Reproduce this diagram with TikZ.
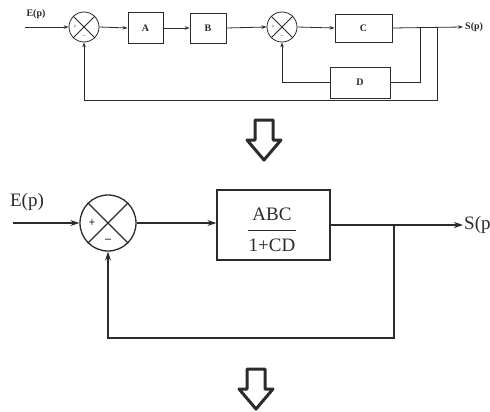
\documentclass[tikz,border=0pt]{standalone}
\usepackage{fontspec}
\setmainfont{Liberation Serif}
\usetikzlibrary{arrows.meta}
\definecolor{ink}{HTML}{2B2B2B}
\begin{document}
\begin{tikzpicture}[x=1pt,y=-1pt,
  ln/.style={draw=ink, line width=0.8pt},
  arr/.style={ln,-{Stealth[length=5pt,width=3.5pt]}},
  lnb/.style={draw=ink, line width=1.3pt},
  arrb/.style={lnb,-{Stealth[length=9pt,width=6pt]}},
  blk/.style={ln, rectangle, inner sep=0pt, font=\fontsize{10}{11}\selectfont\bfseries, text=ink},
  sumt/.style={ln, circle, minimum size=30pt, inner sep=0pt},
  sumb/.style={lnb, circle, minimum size=56pt, inner sep=0pt},
  lblt/.style={font=\fontsize{10}{11}\selectfont\bfseries, text=ink, inner sep=0pt},
  lblb/.style={font=\fontsize{19}{21}\selectfont, text=ink, inner sep=0pt},
  sgn/.style={font=\fontsize{6}{6}\selectfont, text=ink, inner sep=0pt},
  sgnb/.style={font=\fontsize{12}{12}\selectfont\bfseries, text=ink, inner sep=0pt},
  hollow/.style={draw=ink, line width=3pt, line join=round}]
\useasboundingbox[fill=white] (0,0) rectangle (490,412);

% ---------- top diagram ----------
\node[sumt] (s1) at (84,27) {};
\draw[ln] (s1.north west) -- (s1.south east) (s1.north east) -- (s1.south west);
\node[sgn] (s1p) at (75,27) {+};
\node[sgn] (s1m) at (84,37) {--};
\node[blk, minimum width=35pt, minimum height=31pt] (A) at (145.5,28) {A};
\node[blk, minimum width=36pt, minimum height=30pt] (B) at (208,28) {B};
\node[sumt] (s2) at (282,27) {};
\draw[ln] (s2.north west) -- (s2.south east) (s2.north east) -- (s2.south west);
\node[sgn] (s2p) at (273,27) {+};
\node[sgn] (s2m) at (282,37) {--};
\node[blk, minimum width=57pt, minimum height=28pt] (C) at (363.5,28) {C};
\node[blk, minimum width=60pt, minimum height=31pt] (D) at (360,82.5) {D};
\coordinate (ein) at (25,27);
\coordinate (bD) at (420,27);
\coordinate (bO) at (437,27);
\coordinate (sout) at (463,27);
\coordinate (fb1) at (437,100);
\node[lblt] (E1) at (36,14) {E(p)};
\node[lblt, anchor=west] (S1) at (465,27) {S(p)};

\draw[arr] (ein) -- (s1.west);
\draw[arr] (s1.east) -- (A.west);
\draw[arr] (A.east) -- (B.west);
\draw[arr] (B.east) -- (s2.west);
\draw[arr] (s2.east) -- (C.west);
\draw[arr] (C.east) -- (sout);
\draw[ln] (bD) |- (D.east);
\draw[arr] (D.west) -| (s2.south);
\draw[arr] (bO) -- (fb1) -| (s1.south);

% ---------- first hollow arrow ----------
\draw[hollow] (255,120) -- (273,120) -- (273,140) -- (281,140) -- (264,160) -- (247,140) -- (255,140) -- cycle;

% ---------- bottom diagram ----------
\node[sumb] (s3) at (108,223) {};
\draw[lnb] (s3.north west) -- (s3.south east) (s3.north east) -- (s3.south west);
\node[sgnb] (s3p) at (92,223) {+};
\node[sgnb] (s3m) at (108,241) {--};
\node[lnb, rectangle, minimum width=113pt, minimum height=70pt] (G) at (273.5,225) {};
\node[lblb] (num) at (272,214) {ABC};
\node[lblb] (den) at (272,245) {1+CD};
\draw[draw=ink, line width=1pt] (248,230) -- (296,230);
\coordinate (ein2) at (13,223);
\coordinate (b2) at (394,225);
\coordinate (sout2) at (463,225);
\coordinate (fb2) at (394,338);
\node[lblb] (E2) at (27,202) {E(p)};
\node[lblb, anchor=west] (S2) at (464,225) {S(p)};

\draw[arrb] (ein2) -- (s3.west);
\draw[arrb] (s3.east) -- (s3.east -| G.west);
\draw[arrb] (G.east |- b2) -- (sout2);
\draw[arrb] (b2) -- (fb2) -| (s3.south);

% ---------- second hollow arrow ----------
\draw[hollow] (247,369) -- (265,369) -- (265,389) -- (273,389) -- (256,409) -- (239,389) -- (247,389) -- cycle;
\end{tikzpicture}
\end{document}
